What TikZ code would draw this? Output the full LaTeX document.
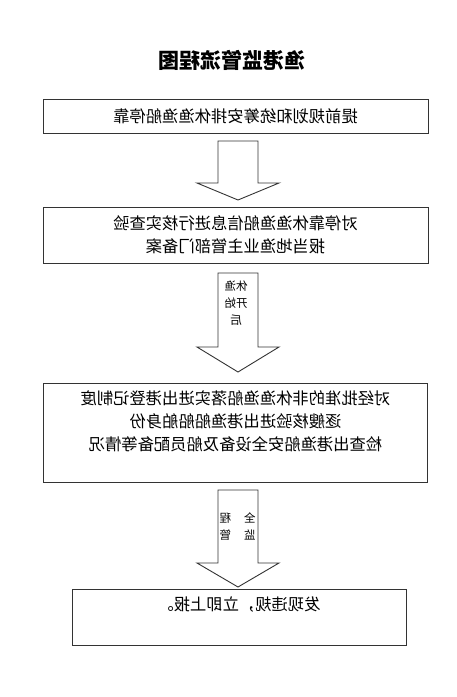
\documentclass[tikz,border=0pt]{standalone}
\usepackage{fontspec}
\newfontfamily\cjk{Noto Sans CJK SC}

\begin{document}
\begin{tikzpicture}[x=1pt, y=-1pt]
    \tikzset{flowbox/.style={draw=black!80, line width=1pt, xscale=-1, align=center,
                 font=\cjk\fontsize{16.3}{23}\selectfont, inner xsep=0pt},
             blockarrow/.style={draw=black!80, line width=0.9pt, line join=miter},
             arrowtext/.style={xscale=-1, align=center, inner sep=0pt,
                 font=\cjk\fontsize{11.5}{17}\selectfont}}
    \useasboundingbox (0, 0) rectangle (457, 697);
    \node[xscale=-1, font=\cjk\bfseries\fontsize{21}{21}\selectfont] (title) at (232, 60) {渔港监管流程图};
    \node[flowbox, minimum width=385pt, minimum height=34pt] (plan) at (235.5, 116)
        {提前规划和统筹安排休渔渔船停靠};
    \node[flowbox, minimum width=385pt, minimum height=56pt] (check) at (235.5, 235)
        {对停靠休渔渔船信息进行核实查验\\报当地渔业主管部门备案};
    \node[flowbox, anchor=north, minimum width=384pt, inner ysep=7pt, text depth=25pt] (port) at (235.5, 383)
        {对经批准的非休渔渔船落实进出港登记制度\\逐艘核验进出港渔船船舶身份\\检查出港渔船安全设备及船员配备等情况};
    \node[flowbox, anchor=north, minimum width=334pt, inner ysep=7pt, text depth=28pt] (report) at (239, 589)
        {发现违规，立即上报。};
    % hollow block arrows between the boxes
    \foreach \top/\head/\tip in {141/183/200, 273/347/372, 490/563/587}
        \draw[blockarrow] (218, \top) -- (258, \top) -- (258, \head) -- (279, \head)
            -- (238, \tip) -- (197, \head) -- (218, \head) -- cycle;
    \node[arrowtext] (start) at (236, 303) {休渔\\开始\\后};
    \node[arrowtext] (whole) at (237.5, 527) {全\kern13pt程\\监\kern13pt管};
\end{tikzpicture}
\end{document}
